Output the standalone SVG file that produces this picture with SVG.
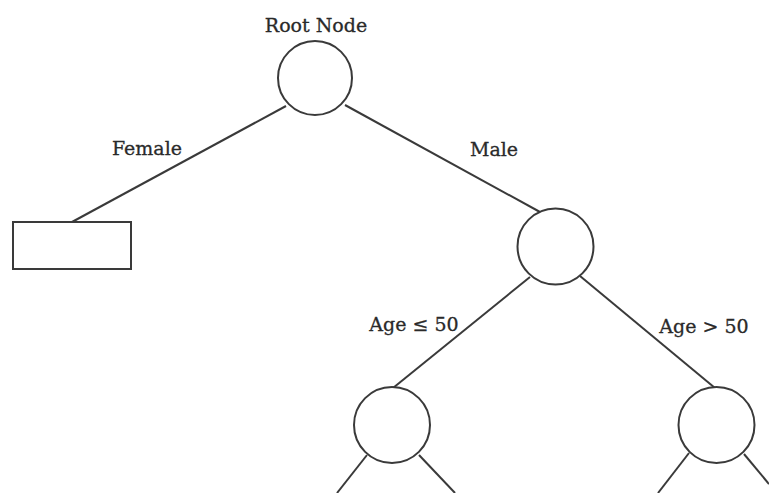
<svg xmlns="http://www.w3.org/2000/svg" width="769" height="493" viewBox="0 0 769 493">
<style>
.node{fill:#fff;stroke:#3a3a3a;stroke-width:2}
.edge{stroke:#3a3a3a;stroke-width:2;fill:none}
.lbl{font-family:"DejaVu Serif","Liberation Serif",serif;font-size:19px;fill:#2a2a2a;stroke:#2a2a2a;stroke-width:0.3}
</style>
<rect width="769" height="493" fill="#fff"/>
<g id="connectors">
<line class="edge" x1="72" y1="222" x2="286" y2="106"/>
<line class="edge" x1="345" y1="105" x2="540" y2="212"/>
<line class="edge" x1="530" y1="277" x2="393" y2="388"/>
<line class="edge" x1="580" y1="276" x2="715" y2="388"/>
<line class="edge" x1="367" y1="455" x2="337" y2="493"/>
<line class="edge" x1="419" y1="455" x2="455" y2="493"/>
<line class="edge" x1="689" y1="453" x2="658" y2="493"/>
<line class="edge" x1="744" y1="454" x2="769" y2="484"/>
</g>
<g id="labels">
<text class="lbl" x="316" y="32" text-anchor="middle">Root Node</text>
<text class="lbl" x="147" y="155" text-anchor="middle">Female</text>
<text class="lbl" x="494" y="156" text-anchor="middle">Male</text>
<text class="lbl" x="414" y="331" text-anchor="middle">Age ≤ 50</text>
<text class="lbl" x="704" y="333" text-anchor="middle">Age &gt; 50</text>
</g>
<g id="root"><circle class="node" cx="315" cy="78" r="37"/></g>
<g id="female-leaf"><rect class="node" x="13" y="222" width="118" height="47"/></g>
<g id="male"><circle class="node" cx="555.5" cy="246.5" r="38"/></g>
<g id="age-le-50"><circle class="node" cx="392" cy="425" r="38"/></g>
<g id="age-gt-50"><circle class="node" cx="716.5" cy="425" r="38"/></g>
</svg>
